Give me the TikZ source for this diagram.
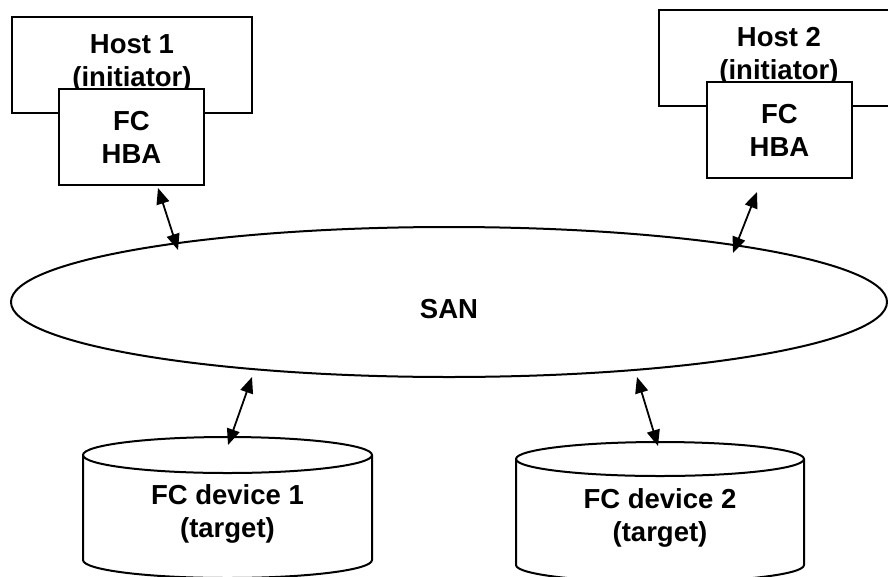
\documentclass[tikz,border=0pt]{standalone}
\usepackage{fontspec}
\setmainfont{Liberation Sans}
\usetikzlibrary{arrows.meta,shapes.geometric}
\tikzset{
  txt/.style={align=center,font=\bfseries\fontsize{27.5}{33}\selectfont},
  box/.style={txt,draw,line width=2pt,fill=white,minimum height=96pt},
  link/.style={{Triangle[length=16pt,width=13pt]}-{Triangle[length=16pt,width=13pt]},line width=1.8pt}
}
\begin{document}
\begin{tikzpicture}[x=1pt,y=-1pt,line width=2pt]
  \useasboundingbox (0,0) rectangle (888,576);
  % hosts with their adapters
  \node[box,minimum width=240pt,text depth=9pt] (host1) at (132,65) {Host 1\\(initiator)};
  \node[box,minimum width=145pt] (hba1) at (131.5,137) {FC\\HBA};
  \node[box,minimum width=240pt,text depth=9pt] (host2) at (779,58) {Host 2\\(initiator)};
  \node[box,minimum width=145pt] (hba2) at (779.5,130) {FC\\HBA};
  % storage network
  \node[txt,draw,ellipse,minimum width=876pt,minimum height=150pt,text height=32pt,text depth=0pt] (san) at (449,302) {SAN};
  % disks
  \draw (83,455) -- (83,560) arc[start angle=180,end angle=0,x radius=144.5,y radius=18] -- (372,455);
  \draw (227.5,455) ellipse [x radius=144.5,y radius=18];
  \node[txt] (dev1) at (227.5,514) {FC device 1\\(target)};
  \draw (516,459) -- (516,565) arc[start angle=180,end angle=0,x radius=144,y radius=17] -- (804,459);
  \draw (660,459) ellipse [x radius=144,y radius=17];
  \node[txt] (dev2) at (660,518) {FC device 2\\(target)};
  % links
  \coordinate (a1) at (158,188); \coordinate (b1) at (178,250);
  \coordinate (a2) at (757,192); \coordinate (b2) at (733,253);
  \coordinate (a3) at (252,377); \coordinate (b3) at (228,445);
  \coordinate (a4) at (637,377); \coordinate (b4) at (658,446);
  \draw[link] (a1) -- (b1);
  \draw[link] (a2) -- (b2);
  \draw[link] (a3) -- (b3);
  \draw[link] (a4) -- (b4);
\end{tikzpicture}
\end{document}
